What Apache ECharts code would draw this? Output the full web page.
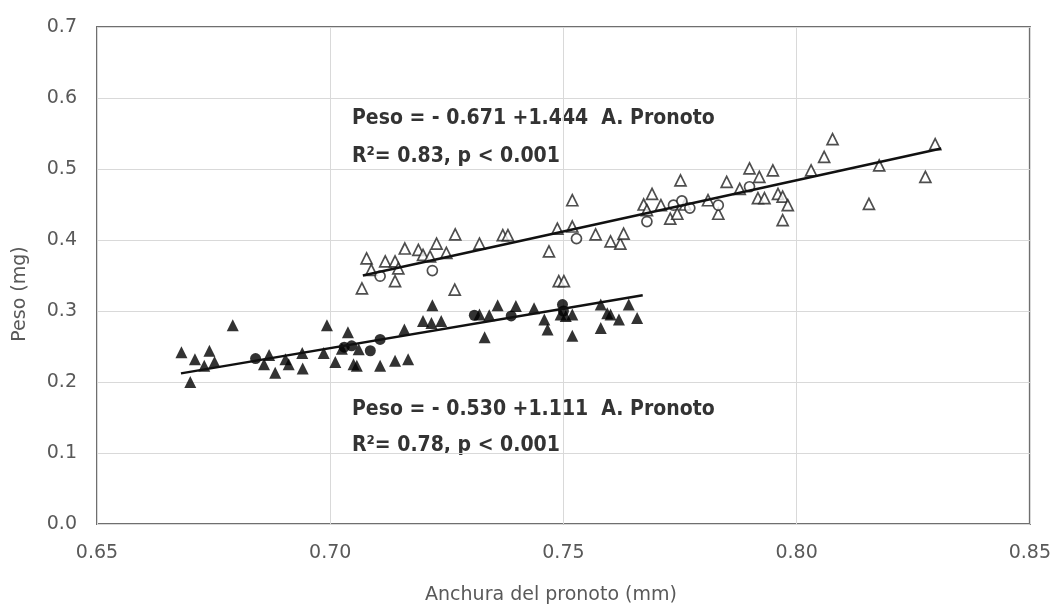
<!DOCTYPE html>
<html>
<head>
<meta charset="utf-8">
<script src="https://cdn.jsdelivr.net/npm/echarts@6/dist/echarts.min.js"></script>
<style>
  html, body { margin: 0; padding: 0; background: #fff; }
  #chart { width: 1054px; height: 609px; }
</style>
</head>
<body>
<div id="chart"></div>
<script>
// Anchura del pronoto (mm) vs Peso (mg), two groups

// Tick labels
const xTicks = [0.65, 0.70, 0.75, 0.80, 0.85];
const yTicks = [0.0, 0.1, 0.2, 0.3, 0.4, 0.5, 0.6, 0.7];

// Lower group (filled markers)
const lowTriangles = [
  [0.6681,0.242],[0.6710,0.232],[0.6741,0.244],[0.6730,0.223],[0.6752,0.228],[0.6700,0.200],
  [0.6791,0.280],[0.6858,0.225],[0.6869,0.238],[0.6882,0.213],[0.6904,0.232],[0.6911,0.225],
  [0.6993,0.280],[0.6940,0.241],[0.6941,0.219],[0.6986,0.241],[0.7011,0.228],[0.7038,0.270],
  [0.7025,0.247],[0.7050,0.225],[0.7061,0.246],[0.7057,0.223],[0.7107,0.223],[0.7139,0.230],
  [0.7167,0.232],[0.7159,0.274],[0.7199,0.286],[0.7217,0.283],[0.7219,0.308],[0.7238,0.286],
  [0.7320,0.295],[0.7341,0.294],[0.7359,0.308],[0.7331,0.263],[0.7398,0.307],[0.7437,0.304],
  [0.7459,0.288],[0.7466,0.274],[0.7494,0.295],[0.7505,0.293],[0.7519,0.295],[0.7519,0.265],
  [0.7580,0.309],[0.7580,0.276],[0.7594,0.297],[0.7601,0.295],[0.7619,0.288],[0.7640,0.309],
  [0.7658,0.290]
];
const lowCircles = [
  [0.6840,0.233],[0.7046,0.251],[0.7030,0.249],[0.7086,0.244],[0.7107,0.260],
  [0.7309,0.294],[0.7388,0.293],[0.7498,0.309],[0.7500,0.300]
];

// Upper group (open markers)
const highTriangles = [
  [0.7078,0.374],[0.7068,0.332],[0.7088,0.358],[0.7118,0.370],[0.7139,0.370],[0.7139,0.342],
  [0.7146,0.360],[0.7160,0.388],[0.7189,0.386],[0.7199,0.379],[0.7214,0.377],[0.7228,0.395],
  [0.7249,0.382],[0.7267,0.330],[0.7268,0.408],[0.7320,0.395],[0.7370,0.407],[0.7381,0.407],
  [0.7469,0.384],[0.7490,0.342],[0.7501,0.342],[0.7487,0.416],[0.7519,0.419],[0.7519,0.456],
  [0.7569,0.408],[0.7601,0.398],[0.7622,0.395],[0.7629,0.409],[0.7672,0.450],[0.7679,0.442],
  [0.7690,0.465],[0.7709,0.449],[0.7729,0.430],[0.7744,0.437],[0.7751,0.484],[0.7761,0.450],
  [0.7810,0.456],[0.7832,0.437],[0.7850,0.482],[0.7878,0.472],[0.7899,0.501],[0.7920,0.489],
  [0.7917,0.459],[0.7931,0.459],[0.7949,0.498],[0.7960,0.465],[0.7970,0.461],[0.7981,0.449],
  [0.7970,0.428],[0.8031,0.498],[0.8059,0.517],[0.8077,0.542],[0.8155,0.451],[0.8177,0.505],
  [0.8276,0.489],[0.8297,0.535]
];
const highCircles = [
  [0.7107,0.349],[0.7219,0.357],[0.7528,0.402],[0.7679,0.426],[0.7736,0.449],
  [0.7754,0.455],[0.7771,0.445],[0.7832,0.449],[0.7899,0.475]
];

// Fitted lines: intercept, slope, x range
const lowFit = { a: -0.530, b: 1.111, from: 0.668, to: 0.767 };
const highFit = { a: -0.671, b: 1.444, from: 0.707, to: 0.831 };

function fitLine(f) {
  return [[f.from, f.a + f.b * f.from], [f.to, f.a + f.b * f.to]];
}

const tickFont = 'DejaVu Sans';
const noteFont = "bold condensed 21px 'DejaVu Sans', sans-serif";

const chart = echarts.init(document.getElementById('chart'), null, { renderer: 'canvas' });

const filled = { color: '#000' };
const open = { color: '#fff', borderColor: '#222', borderWidth: 1.7 };

chart.setOption({
  animation: false,
  backgroundColor: '#fff',
  grid: {
    left: 97, right: 17, top: 27, bottom: 85,
    show: true, borderColor: '#6f6f6f', borderWidth: 2, backgroundColor: 'transparent'
  },
  xAxis: {
    type: 'value',
    min: xTicks[0], max: xTicks[xTicks.length - 1], interval: 0.05,
    axisLine: { show: false }, axisTick: { show: false },
    splitLine: { show: true, lineStyle: { color: '#d9d9d9', width: 1 } },
    axisLabel: {
      margin: 20, color: '#595959', fontFamily: tickFont, fontSize: 19,
      formatter: v => v.toFixed(2)
    }
  },
  yAxis: {
    type: 'value',
    min: yTicks[0], max: yTicks[yTicks.length - 1], interval: 0.1,
    axisLine: { show: false }, axisTick: { show: false },
    splitLine: { show: true, lineStyle: { color: '#d9d9d9', width: 1 } },
    axisLabel: {
      margin: 20, color: '#595959', fontFamily: tickFont, fontSize: 19,
      formatter: v => v.toFixed(1)
    }
  },
  graphic: [
    { type: 'text', x: 551, y: 595, style: { text: 'Anchura del pronoto (mm)', font: '19px DejaVu Sans', fill: '#595959', align: 'center', verticalAlign: 'middle' } },
    { type: 'text', x: 20, y: 294, rotation: Math.PI / 2, style: { text: 'Peso (mg)', font: '19px DejaVu Sans', fill: '#595959', align: 'center', verticalAlign: 'middle' } },
    { type: 'text', x: 352, y: 119, style: { text: 'Peso = - 0.671 +1.444  A. Pronoto', font: noteFont, fill: '#333', verticalAlign: 'middle' } },
    { type: 'text', x: 352, y: 157, style: { text: 'R²= 0.83, p < 0.001', font: noteFont, fill: '#333', verticalAlign: 'middle' } },
    { type: 'text', x: 352, y: 410, style: { text: 'Peso = - 0.530 +1.111  A. Pronoto', font: noteFont, fill: '#333', verticalAlign: 'middle' } },
    { type: 'text', x: 352, y: 446, style: { text: 'R²= 0.78, p < 0.001', font: noteFont, fill: '#333', verticalAlign: 'middle' } }
  ],
  series: [
    { type: 'line', data: fitLine(lowFit), symbol: 'none', lineStyle: { color: '#111', width: 2.5 }, z: 3 },
    { type: 'line', data: fitLine(highFit), symbol: 'none', lineStyle: { color: '#111', width: 2.5 }, z: 3 },
    { type: 'scatter', data: highTriangles, symbol: 'triangle', symbolSize: 11, itemStyle: open, z: 2 },
    { type: 'scatter', data: highCircles, symbol: 'circle', symbolSize: 10, itemStyle: open, z: 2 },
    { type: 'scatter', data: lowTriangles, symbol: 'triangle', symbolSize: 12, itemStyle: filled, z: 2 },
    { type: 'scatter', data: lowCircles, symbol: 'circle', symbolSize: 11, itemStyle: filled, z: 2 }
  ]
});
</script>
</body>
</html>
